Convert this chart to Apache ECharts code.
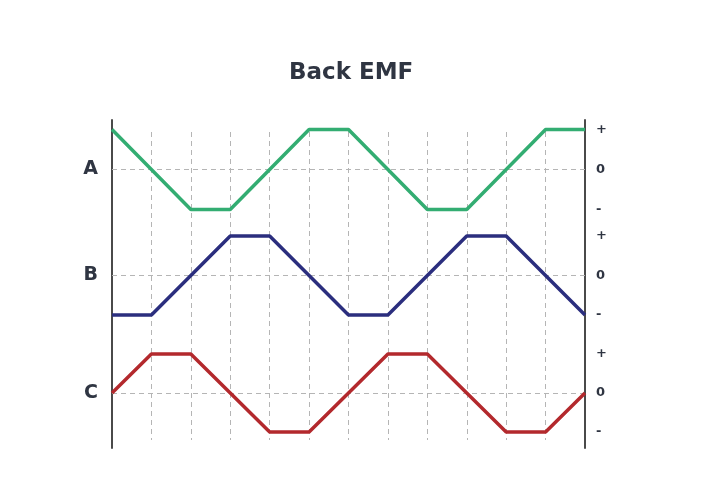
<!DOCTYPE html>
<html>
<head>
<meta charset="utf-8">
<script src="https://cdn.jsdelivr.net/npm/echarts@6/dist/echarts.min.js"></script>
<style>html,body{margin:0;padding:0;background:#fff}#c{width:720px;height:489px}</style>
</head>
<body>
<div id="c"></div>
<script>
// Steps along the x axis (0..12)
var steps = [0,1,2,3,4,5,6,7,8,9,10,11,12];
// Phase values (+1 / 0 / -1)
var phaseA = [1, 0, -1, -1, 0, 1, 1, 0, -1, -1, 0, 1, 1];
var phaseB = [-1, -1, 0, 1, 1, 0, -1, -1, 0, 1, 1, 0, -1];
var phaseC = [0, 1, 1, 0, -1, -1, 0, 1, 1, 0, -1, -1, 0];
var phaseNames = ['A', 'B', 'C'];
var levelLabels = {'1': '+', '0': '0', '-1': '-'};
var titleText = 'Back EMF';

var GT = 120, GB = 448; // grid top / bottom in px
var H = GB - GT;
// zero line pixel and unit size for each row
var rows = [
  {zero: 169.5, unit: 40},
  {zero: 275.5, unit: 39.5},
  {zero: 393, unit: 39}
];
function range(r) {
  return {max: (r.zero - GT) / r.unit, min: -(GB - r.zero) / r.unit};
}
var colors = ['#33ad72', '#2b2e7e', '#b3292d'];
var datas = [phaseA, phaseB, phaseC];

var yAxes = [];
var series = [];
rows.forEach(function (r, i) {
  var rg = range(r);
  yAxes.push({
    type: 'value', gridIndex: 0, position: 'left', min: rg.min, max: rg.max,
    axisLine: {show: i === 0, onZero: false, lineStyle: {color: '#4a4a4a', width: 2}},
    axisTick: {show: false}, splitLine: {show: false},
    axisLabel: {
      customValues: [0], margin: 14,
      formatter: (function (n) { return function () { return n; }; })(phaseNames[i]),
      color: '#2f3542', fontSize: 19, fontWeight: 'bold', fontFamily: 'DejaVu Sans'
    }
  });
});
rows.forEach(function (r, i) {
  var rg = range(r);
  yAxes.push({
    type: 'value', gridIndex: 0, position: 'right', min: rg.min, max: rg.max,
    axisLine: {show: i === 0, onZero: false, lineStyle: {color: '#4a4a4a', width: 2}},
    axisTick: {show: false}, splitLine: {show: false},
    axisLabel: {
      customValues: [-1, 0, 1], margin: 11,
      formatter: function (v) { return levelLabels[String(Math.round(v))]; },
      color: '#2f3542', fontSize: 13, fontWeight: 'bold', fontFamily: 'DejaVu Sans'
    }
  });
});
// hidden y axis for the grid-line grid
yAxes.push({type: 'value', gridIndex: 1, show: false, min: 0, max: 1});

datas.forEach(function (d, i) {
  series.push({
    type: 'line', xAxisIndex: 0, yAxisIndex: i,
    data: steps.map(function (s, k) { return [s, d[k]]; }),
    symbol: 'none', lineStyle: {color: colors[i], width: 3.5}, z: 5,
    markLine: {
      silent: true, symbol: 'none', label: {show: false},
      lineStyle: {color: '#b5b5b5', type: [5, 4], width: 1},
      data: [{yAxis: 0}], z: 1
    }
  });
});

var chart = echarts.init(document.getElementById('c'), null, {renderer: 'canvas'});
chart.setOption({
  backgroundColor: '#fff',
  animation: false,
  title: {
    text: titleText, left: 284, top: 57,
    textStyle: {color: '#2f3542', fontSize: 23, fontWeight: 'bold', fontFamily: 'DejaVu Sans'}
  },
  grid: [
    {left: 112, right: 135, top: GT, height: H},
    {left: 112, right: 135, top: 132, height: 308}
  ],
  xAxis: [
    {type: 'value', gridIndex: 0, min: 0, max: 12, interval: 1,
     axisLine: {show: false}, axisTick: {show: false}, axisLabel: {show: false},
     splitLine: {show: false}},
    {type: 'value', gridIndex: 1, min: 0, max: 12, interval: 1,
     axisLine: {show: false}, axisTick: {show: false}, axisLabel: {show: false},
     splitLine: {show: true, lineStyle: {color: '#b5b5b5', type: [5, 4], width: 1}}}
  ],
  yAxis: yAxes,
  series: series
});
</script>
</body>
</html>
